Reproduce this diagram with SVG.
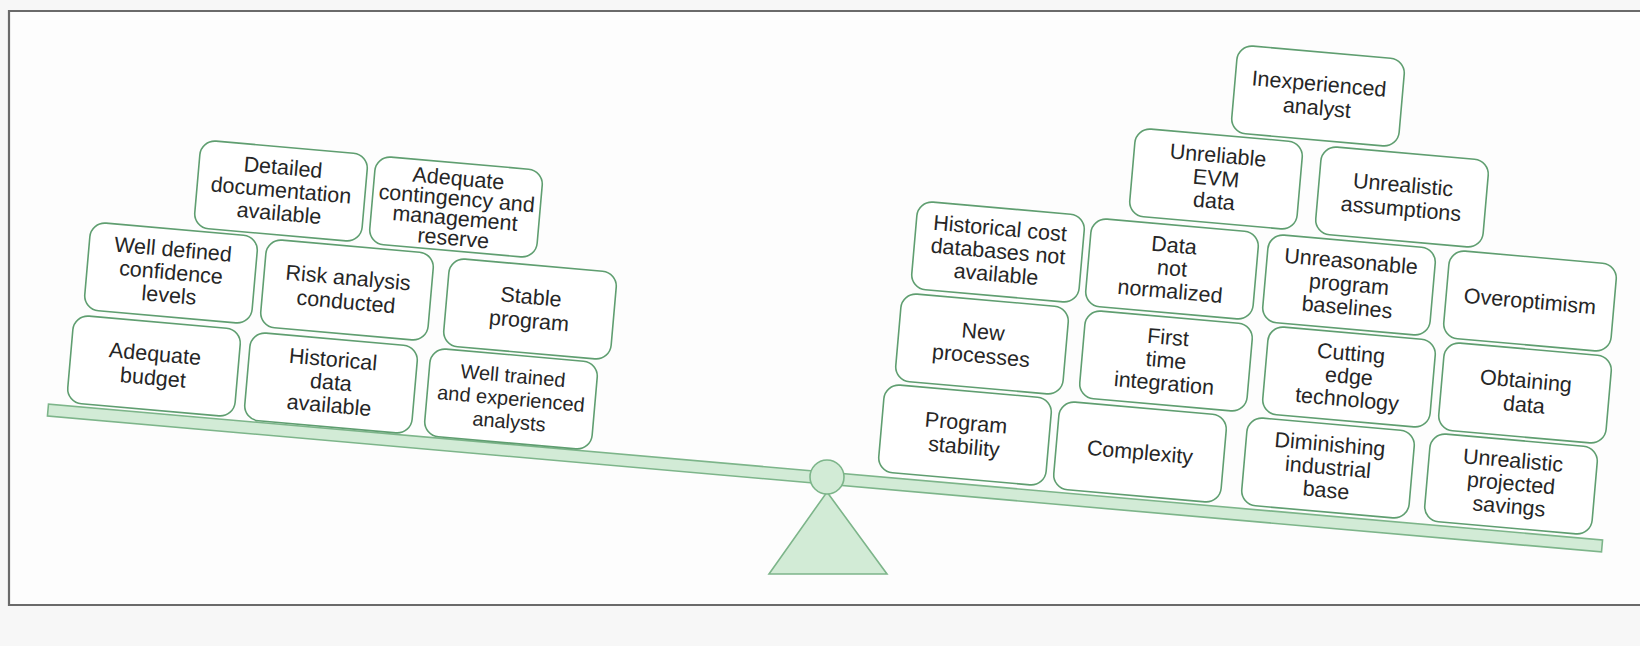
<svg xmlns="http://www.w3.org/2000/svg" width="1640" height="646" viewBox="0 0 1640 646">
<style>
.box{fill:#ffffff;stroke:#5f9e70;stroke-width:1.6}
.t{font-family:"Liberation Sans",Arial,sans-serif;font-size:21.5px;fill:#262626;text-anchor:middle}
.beam{fill:#d2ebd6;stroke:#7db58a;stroke-width:1.6}
.frame{fill:none;stroke:#6a6a6a;stroke-width:2.2}
</style>
<defs>
<rect id="b" class="box" x="-84" y="-44" width="168" height="88" rx="15"/>
</defs>
<rect x="0" y="0" width="1640" height="646" fill="#f7f7f7"/>
<rect x="9" y="11" width="1640" height="594" fill="#fdfdfd"/>
<path class="frame" d="M1640 11H9V605H1640"/>
<g id="scale">
<rect class="beam" x="-780" y="-6" width="1560" height="12" transform="translate(825 478) rotate(5)"/>
<polygon class="beam" points="827,492 887,574 769,574" fill="#d8ebdb"/>
<circle class="beam" cx="827" cy="477" r="17"/>
</g>
<g id="n-detailed" transform="translate(281 191) rotate(5)"><use href="#b"/><text class="t" y="-16.5"><tspan x="0">Detailed</tspan><tspan x="0" dy="23">documentation</tspan><tspan x="0" dy="23">available</tspan></text></g>
<g id="n-contingency" transform="translate(456 207) rotate(5)"><use href="#b"/><text class="t" y="-21.5"><tspan x="0">Adequate</tspan><tspan x="0" dy="20">contingency and</tspan><tspan x="0" dy="20">management</tspan><tspan x="0" dy="20">reserve</tspan></text></g>
<g id="n-confidence" transform="translate(171 273) rotate(5)"><use href="#b"/><text class="t" y="-16.5"><tspan x="0">Well defined</tspan><tspan x="0" dy="23">confidence</tspan><tspan x="0" dy="23">levels</tspan></text></g>
<g id="n-risk" transform="translate(347 290) rotate(5)"><use href="#b"/><text class="t" y="-5"><tspan x="0">Risk analysis</tspan><tspan x="0" dy="24">conducted</tspan></text></g>
<g id="n-stable" transform="translate(530 309) rotate(5)"><use href="#b"/><text class="t" y="-5"><tspan x="0">Stable</tspan><tspan x="0" dy="24">program</tspan></text></g>
<g id="n-budget" transform="translate(154 366) rotate(5)"><use href="#b"/><text class="t" y="-5"><tspan x="0">Adequate</tspan><tspan x="0" dy="24">budget</tspan></text></g>
<g id="n-histdata" transform="translate(331 383) rotate(5)"><use href="#b"/><text class="t" y="-16.5"><tspan x="0">Historical</tspan><tspan x="0" dy="23">data</tspan><tspan x="0" dy="23">available</tspan></text></g>
<g id="n-trained" transform="translate(511 399) rotate(5)"><use href="#b"/><text class="t" y="-16.5" style="font-size:20px"><tspan x="0">Well trained</tspan><tspan x="0" dy="23">and experienced</tspan><tspan x="0" dy="23">analysts</tspan></text></g>
<g id="n-inexperienced" transform="translate(1318 96) rotate(5)"><use href="#b"/><text class="t" y="-5"><tspan x="0">Inexperienced</tspan><tspan x="0" dy="24">analyst</tspan></text></g>
<g id="n-evm" transform="translate(1216 179) rotate(5)"><use href="#b"/><text class="t" y="-16.5"><tspan x="0">Unreliable</tspan><tspan x="0" dy="23">EVM</tspan><tspan x="0" dy="23">data</tspan></text></g>
<g id="n-assumptions" transform="translate(1402 197) rotate(5)"><use href="#b"/><text class="t" y="-5"><tspan x="0">Unrealistic</tspan><tspan x="0" dy="24">assumptions</tspan></text></g>
<g id="n-histcost" transform="translate(998 252) rotate(5)"><use href="#b"/><text class="t" y="-16.5"><tspan x="0">Historical cost</tspan><tspan x="0" dy="23">databases not</tspan><tspan x="0" dy="23">available</tspan></text></g>
<g id="n-normalized" transform="translate(1172 269) rotate(5)"><use href="#b"/><text class="t" y="-16.5"><tspan x="0">Data</tspan><tspan x="0" dy="23">not</tspan><tspan x="0" dy="23">normalized</tspan></text></g>
<g id="n-baselines" transform="translate(1349 285) rotate(5)"><use href="#b"/><text class="t" y="-16.5"><tspan x="0">Unreasonable</tspan><tspan x="0" dy="23">program</tspan><tspan x="0" dy="23">baselines</tspan></text></g>
<g id="n-overoptimism" transform="translate(1530 301) rotate(5)"><use href="#b"/><text class="t" y="7.5"><tspan x="0">Overoptimism</tspan></text></g>
<g id="n-newproc" transform="translate(982 344) rotate(5)"><use href="#b"/><text class="t" y="-5"><tspan x="0">New</tspan><tspan x="0" dy="24">processes</tspan></text></g>
<g id="n-firsttime" transform="translate(1166 361) rotate(5)"><use href="#b"/><text class="t" y="-16.5"><tspan x="0">First</tspan><tspan x="0" dy="23">time</tspan><tspan x="0" dy="23">integration</tspan></text></g>
<g id="n-cutting" transform="translate(1349 377) rotate(5)"><use href="#b"/><text class="t" y="-16.5"><tspan x="0">Cutting</tspan><tspan x="0" dy="23">edge</tspan><tspan x="0" dy="23">technology</tspan></text></g>
<g id="n-obtaining" transform="translate(1525 393) rotate(5)"><use href="#b"/><text class="t" y="-5"><tspan x="0">Obtaining</tspan><tspan x="0" dy="24">data</tspan></text></g>
<g id="n-progstab" transform="translate(965 435) rotate(5)"><use href="#b"/><text class="t" y="-5"><tspan x="0">Program</tspan><tspan x="0" dy="24">stability</tspan></text></g>
<g id="n-complexity" transform="translate(1140 452) rotate(5)"><use href="#b"/><text class="t" y="7.5"><tspan x="0">Complexity</tspan></text></g>
<g id="n-diminishing" transform="translate(1328 468) rotate(5)"><use href="#b"/><text class="t" y="-16.5"><tspan x="0">Diminishing</tspan><tspan x="0" dy="23">industrial</tspan><tspan x="0" dy="23">base</tspan></text></g>
<g id="n-savings" transform="translate(1511 484) rotate(5)"><use href="#b"/><text class="t" y="-16.5"><tspan x="0">Unrealistic</tspan><tspan x="0" dy="23">projected</tspan><tspan x="0" dy="23">savings</tspan></text></g>
<g id="connectors"/>
</svg>
